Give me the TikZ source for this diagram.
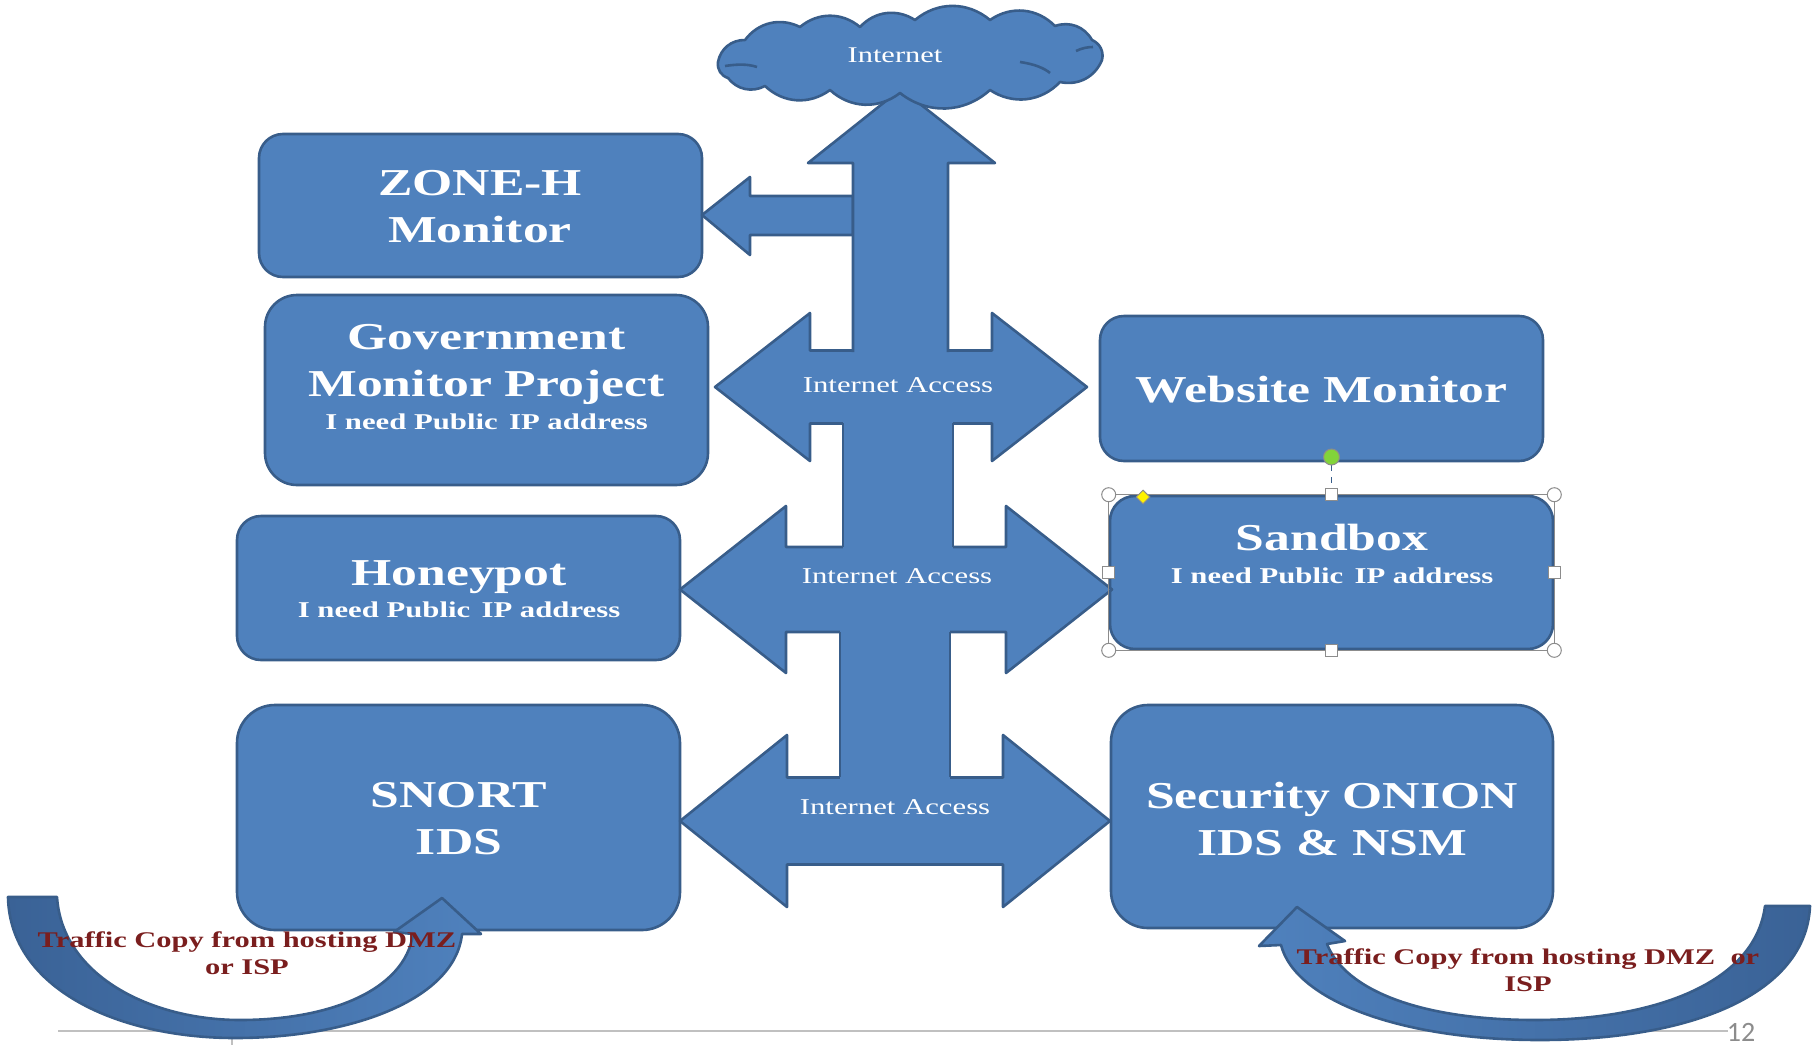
\documentclass[tikz,border=0pt]{standalone}
\usepackage{fontspec}
\setmainfont{Liberation Serif}[FakeStretch=1.36]
\newfontfamily\pagenumfont{Carlito}
\usetikzlibrary{shapes.geometric,fit}
\definecolor{fillblue}{HTML}{4F81BD}
\definecolor{lineblue}{HTML}{385D8A}
\definecolor{darkarc}{HTML}{3A6296}
\definecolor{maroonred}{HTML}{7A1E1E}
\definecolor{rulegray}{HTML}{C0C0C0}
\definecolor{handlegray}{HTML}{8C8C8C}
\definecolor{rotgreen}{HTML}{82D43A}
\definecolor{adjyellow}{HTML}{FFF200}
\newcommand\dblarrow[6]{%
  \draw[blk] (#1,#3) -- ({#1+#6},{#3-#4}) -- ({#1+#6},{#3-#5}) -- ({#2-#6},{#3-#5})
    -- ({#2-#6},{#3-#4}) -- (#2,#3) -- ({#2-#6},{#3+#4}) -- ({#2-#6},{#3+#5})
    -- ({#1+#6},{#3+#5}) -- ({#1+#6},{#3+#4}) -- cycle;}
\begin{document}
\begin{tikzpicture}[x=0.5pt,y=-0.5pt,
  blk/.style={fill=fillblue, draw=lineblue, line width=1.3pt, line join=round},
  box/.style={blk, rectangle, inner sep=0pt, rounded corners=#1},
  box/.default=12pt,
  title/.style={text=white, inner sep=0pt, align=center,
    font=\fontsize{19}{23.5}\selectfont\bfseries},
  sub/.style={text=white, inner sep=0pt, align=center,
    font=\fontsize{11.3}{13}\selectfont\bfseries},
  access/.style={text=white, inner sep=0pt, align=center,
    font=\fontsize{11.3}{13}\selectfont},
  traffic/.style={text=maroonred, inner sep=0pt, align=center,
    font=\fontsize{11.2}{13.5}\selectfont\bfseries},
  handle/.style={draw=handlegray, fill=white, line width=0.5pt, inner sep=0pt},
  puff/.style={bend left=40},
]
\useasboundingbox (0,0) rectangle (1816,1045);

% bottom rule
\draw[rulegray, line width=1pt] (58,1031) -- (1728,1031);
\draw[rulegray, line width=1pt] (232,1031) -- (232,1045);
\node[text=handlegray, inner sep=0pt, font=\pagenumfont\fontsize{14}{14}\selectfont] (pnum) at (1741,1032) {12};

% boxes
\node[box=12pt, fit={(259,134) (702,277)}] (zoneh) {};
\node[box=16pt, fit={(265,295) (708,485)}] (gov) {};
\node[box=12pt, fit={(237,516) (680,660)}] (honey) {};
\node[box=19pt, fit={(237,705) (680,930)}] (snort) {};
\node[box=12pt, fit={(1100,316) (1543,461)}] (web) {};
\node[box=12.5pt, fit={(1110,496) (1553,649)}] (sandbox) {};
\node[box=18.5pt, fit={(1111,705) (1553,928)}] (onion) {};

% block arrows
\draw[blk] (702,215) -- (750,177) -- (750,196) -- (853,196) -- (853,235) -- (750,235) -- (750,255) -- cycle;
\dblarrow{715}{1087}{387}{74}{36.5}{95}
\dblarrow{680}{1112}{589.5}{83.5}{42.5}{106}
\dblarrow{680}{1110}{821}{86}{43.5}{107}
% vertical shaft
\draw[blk] (853,352) -- (853,163) -- (808,163) -- (901,89) -- (995,163) -- (948,163) -- (948,352);
\fill[fillblue] (843,421) rectangle (953,549);
\draw[lineblue, line width=1.3pt] (843,423) -- (843,547) (953,423) -- (953,547);
\fill[fillblue] (840,630) rectangle (950,779);
\draw[lineblue, line width=1.3pt] (840,632) -- (840,777) (950,632) -- (950,777);

% cloud
\draw[blk] (718,62) to[puff] (745,40) to[puff] (800,27) to[puff] (860,27) to[puff] (915,20)
  to[puff] (990,20) to[puff] (1055,26) to[puff] (1092,40) to[puff] (1102,60)
  to[puff] (1060,82) to[puff] (990,90) to[puff] (900,93) to[puff] (830,90)
  to[puff] (765,86) to[puff] (728,78) to[puff] (718,62) -- cycle;
\draw[lineblue, line width=1.3pt] (725,66) .. controls (738,64) and (748,64) .. (757,67);
\draw[lineblue, line width=1.3pt] (1020,62) .. controls (1034,64) and (1044,68) .. (1050,73);
\draw[lineblue, line width=1.3pt] (1076,51) .. controls (1082,48) and (1088,47) .. (1093,47);
\node[access, font=\fontsize{11.2}{13}\selectfont] (internet) at (895,55) {Internet};

% texts
\node[title] (zonehTxt) at (480,206.5) {ZONE-H\\Monitor};
\node[title] (govTxt) at (486.5,364) {Government\\Monitor Project};
\node[sub] (govSub) at (486.5,422) {I need Public\enspace IP address};
\node[title] (honeyTxt) at (459,577) {Honeypot};
\node[sub] (honeySub) at (459,610) {I need Public\enspace IP address};
\node[title] (snortTxt) at (459,818.5) {SNORT\\IDS};
\node[title] (webTxt) at (1321.5,390) {Website Monitor};
\node[title] (sandTxt) at (1332,537) {Sandbox};
\node[sub] (sandSub) at (1332,576) {I need Public\enspace IP address};
\node[title] (onionTxt) at (1332,818.5) {Security ONION\\IDS \& NSM};
\node[access] (acc1) at (898,385) {Internet Access};
\node[access] (acc2) at (897,576) {Internet Access};
\node[access] (acc3) at (895,807) {Internet Access};

% curved arrows
\path[draw=lineblue, line width=1.3pt, line join=round, left color=darkarc, right color=fillblue]
  (8,897) -- (57,897) .. controls (62,975) and (150,1020) .. (240,1020)
  .. controls (330,1020) and (405,990) .. (413,934) -- (394,932) -- (442,898)
  -- (481,934) -- (462,934) .. controls (455,1000) and (350,1038) .. (235,1038)
  .. controls (120,1038) and (10,990) .. (8,897) -- cycle;
\path[draw=lineblue, line width=1.3pt, line join=round, right color=darkarc, left color=fillblue]
  (1765,906) -- (1810,906) .. controls (1806,995) and (1690,1040) .. (1540,1040)
  .. controls (1400,1040) and (1295,1000) .. (1281,945) -- (1259,946) -- (1297,907)
  -- (1345,941) -- (1327,944) .. controls (1345,990) and (1420,1020) .. (1535,1020)
  .. controls (1650,1020) and (1755,985) .. (1765,906) -- cycle;

% selection handles on sandbox
\draw[handlegray, line width=0.4pt] (sandbox.north west) rectangle (sandbox.south east);
\draw[lineblue, line width=0.8pt, dashed] (1331.5,465) -- (1331.5,489);
\node[handle, circle, fill=rotgreen, minimum size=8pt] (rot) at (1331.5,457) {};
\foreach \p/\n in {north west/c1, north east/c2, south west/c3, south east/c4}
  \node[handle, circle, minimum size=7pt] (\n) at (sandbox.\p) {};
\foreach \p/\n in {north/s1, south/s2, west/s3, east/s4}
  \node[handle, rectangle, minimum size=6pt] (\n) at (sandbox.\p) {};
\node[handle, diamond, shape aspect=1, fill=adjyellow, minimum size=7pt] (adj) at (1143,497) {};

\node[traffic] (trafL) at (247,953) {Traffic Copy from hosting DMZ\\or ISP};
\node[traffic] (trafR) at (1528,970) {Traffic Copy from hosting DMZ~ or\\ISP};
\end{tikzpicture}
\end{document}
